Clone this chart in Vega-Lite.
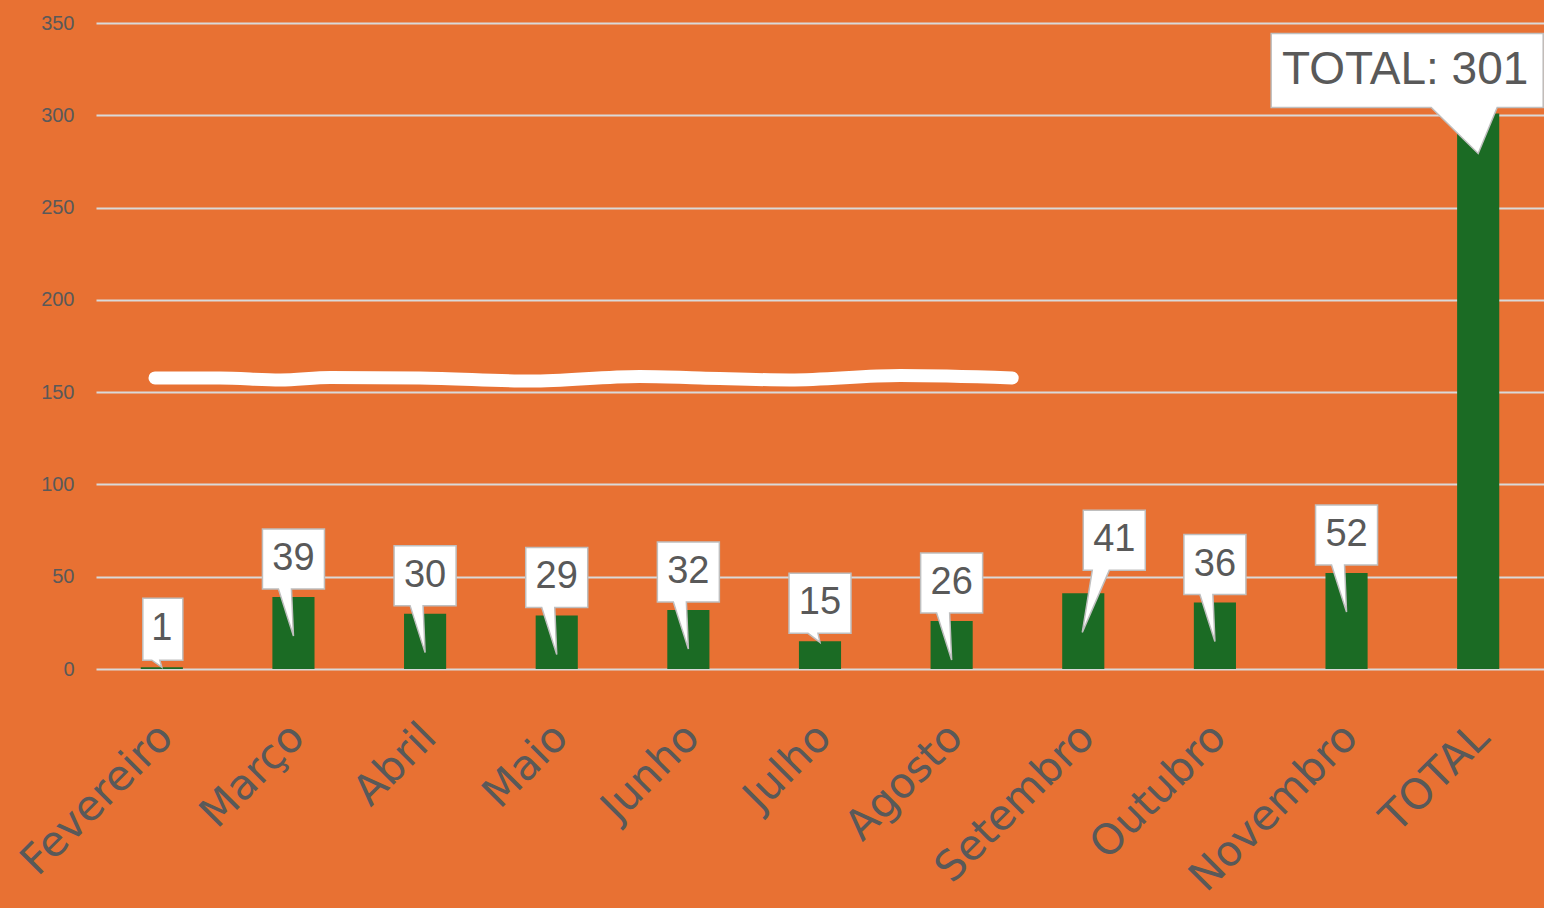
{
  "$schema": "https://vega.github.io/schema/vega-lite/v6.json",
  "autosize": {"type": "none"},
  "width": 1448,
  "height": 646,
  "padding": {"left": 96, "top": 23, "right": 0, "bottom": 239},
  "background": "#E87133",
  "config": {"view": {"stroke": null}, "font": "Liberation Sans"},
  "datasets": {
    "months": [
      {"month": "Fevereiro", "value": 1, "label": "1"},
      {"month": "Março", "value": 39, "label": "39"},
      {"month": "Abril", "value": 30, "label": "30"},
      {"month": "Maio", "value": 29, "label": "29"},
      {"month": "Junho", "value": 32, "label": "32"},
      {"month": "Julho", "value": 15, "label": "15"},
      {"month": "Agosto", "value": 26, "label": "26"},
      {"month": "Setembro", "value": 41, "label": "41"},
      {"month": "Outubro", "value": 36, "label": "36"},
      {"month": "Novembro", "value": 52, "label": "52"},
      {"month": "TOTAL", "value": 301, "label": "TOTAL: 301"}
    ],
    "scribble": [
      {"pos": 0.448, "level": 157.7},
      {"pos": 0.94, "level": 157.7},
      {"pos": 1.40, "level": 156.6},
      {"pos": 1.78, "level": 157.9},
      {"pos": 2.46, "level": 157.7},
      {"pos": 3.30, "level": 156.0},
      {"pos": 4.13, "level": 158.5},
      {"pos": 4.59, "level": 157.7},
      {"pos": 5.27, "level": 156.6},
      {"pos": 6.11, "level": 159.0},
      {"pos": 6.96, "level": 157.7}
    ]
  },
  "resolve": {"scale": {"x": "independent"}},
  "layer": [
    {
      "data": {"name": "months"},
      "encoding": {
        "x": {
          "field": "month", "type": "nominal", "sort": null,
          "scale": {"paddingInner": 0.68, "paddingOuter": 0.34},
          "axis": {
            "title": null, "labelAngle": -45, "labelFontSize": 42, "labelFont": "DejaVu Sans",
            "labelColor": "#595959", "ticks": false, "domain": false,
            "labelPadding": 47, "labelOffset": -10, "grid": false, "labelLimit": 0
          }
        },
        "y": {
          "field": "value", "type": "quantitative",
          "scale": {"domain": [0, 350], "nice": false},
          "axis": {
            "title": null, "values": [0, 50, 100, 150, 200, 250, 300, 350],
            "grid": true, "gridColor": "#D9D9D9", "gridWidth": 2,
            "domain": false, "ticks": false, "labelFontSize": 20,
            "labelColor": "#595959", "labelPadding": 22
          }
        }
      },
      "layer": [
        {"mark": {"type": "bar", "color": "#1B6B24"}},
        {
          "transform": [{"filter": "datum.value >= 20 && datum.month != 'TOTAL' && datum.month != 'Setembro'"}],
          "mark": {"type": "point", "filled": true, "fill": "white", "stroke": "#BFBFBF", "strokeWidth": 1.5, "opacity": 1, "size": 4,
            "shape": "M-31,-68 H31 V-8 H-2 L0,39 L-15,-8 H-31 Z"}
        },
        {
          "transform": [{"filter": "datum.month == 'Setembro'"}],
          "mark": {"type": "point", "filled": true, "fill": "white", "stroke": "#BFBFBF", "strokeWidth": 1.5, "opacity": 1, "size": 4,
            "shape": "M0,-83 H62 V-23 H26 L-1,39 L9,-23 H0 Z"}
        },
        {
          "transform": [{"filter": "datum.value >= 10 && datum.value < 20"}],
          "mark": {"type": "point", "filled": true, "fill": "white", "stroke": "#BFBFBF", "strokeWidth": 1.5, "opacity": 1, "size": 4,
            "shape": "M-31,-68 H31 V-8 H-2 L0,1 L-12,-8 H-31 Z"}
        },
        {
          "transform": [{"filter": "datum.value < 10"}],
          "mark": {"type": "point", "filled": true, "fill": "white", "stroke": "#BFBFBF", "strokeWidth": 1.5, "opacity": 1, "size": 4,
            "shape": "M-19,-69 H21 V-7 H-2 L0,0 L-10,-7 H-19 Z"}
        },
        {
          "transform": [{"filter": "datum.month == 'TOTAL'"}],
          "mark": {"type": "point", "filled": true, "fill": "white", "stroke": "#BFBFBF", "strokeWidth": 1.5, "opacity": 1, "size": 4,
            "shape": "M-207,-80 H65 V-6 H19 L0,40 L-47,-6 H-207 Z"}
        },
        {
          "transform": [{"filter": "datum.month != 'TOTAL' && datum.month != 'Setembro'"}],
          "mark": {"type": "text", "fontSize": 38, "color": "#595959", "baseline": "middle", "align": "center", "dy": -38},
          "encoding": {"text": {"field": "label"}}
        },
        {
          "transform": [{"filter": "datum.month == 'Setembro'"}],
          "mark": {"type": "text", "fontSize": 38, "color": "#595959", "baseline": "middle", "align": "center", "dy": -53, "dx": 31},
          "encoding": {"text": {"field": "label"}}
        },
        {
          "transform": [{"filter": "datum.month == 'TOTAL'"}],
          "mark": {"type": "text", "fontSize": 46, "color": "#595959", "baseline": "middle", "align": "center", "dy": -43, "dx": -73},
          "encoding": {"text": {"field": "label"}}
        }
      ]
    },
    {
      "data": {"name": "scribble"},
      "mark": {"type": "line", "color": "white", "strokeWidth": 13, "strokeCap": "round", "strokeJoin": "round", "interpolate": "monotone"},
      "encoding": {
        "x": {"field": "pos", "type": "quantitative", "scale": {"domain": [0, 11], "nice": false, "zero": false}, "axis": null},
        "y": {"field": "level", "type": "quantitative"}
      }
    }
  ]
}
